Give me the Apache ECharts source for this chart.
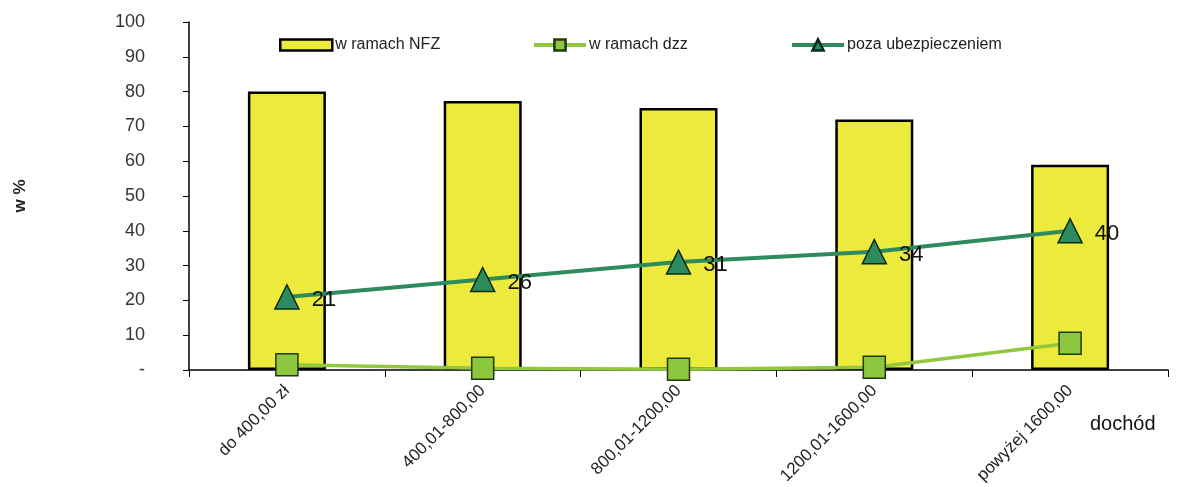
<!DOCTYPE html>
<html><head><meta charset="utf-8">
<script src="https://cdn.jsdelivr.net/npm/echarts@6/dist/echarts.min.js"></script>
<style>html,body{margin:0;padding:0;background:#fff}#c{width:1179px;height:487px}</style>
</head><body><div id="c"></div>
<script>
const categories = ['do 400,00 zł', '400,01-800,00', '800,01-1200,00', '1200,01-1600,00', 'powyżej 1600,00'];
const nfz = [80, 77.3, 75.3, 72, 59];
const dzz = [1.5, 0.5, 0.2, 0.8, 7.7];
const poza = [21, 26, 31, 34, 40];

const chart = echarts.init(document.getElementById('c'));
const font = 'Liberation Sans, Arial, sans-serif';
const legendText = { fontFamily: font, fontSize: 16, color: '#222', padding: [0, 0, 0, -2] };
function leg(name, left, itemHeight, icon) {
  const item = { name: name };
  if (icon) item.icon = icon;
  return { top: 32, left: left, itemWidth: 52, itemHeight: itemHeight, itemGap: 0,
    textStyle: legendText, lineStyle: { width: 4 },
    itemStyle: { borderWidth: 2.5 },
    data: [item] };
}
chart.setOption({
  animation: false,
  grid: { left: 189, right: 11, top: 22, bottom: 115 },
  legend: [leg('w ramach NFZ', 274, 11, 'rect'), leg('w ramach dzz', 527, 14), leg('poza ubezpieczeniem', 785, 14)],
  xAxis: {
    type: 'category', data: categories,
    axisLine: { lineStyle: { color: '#000', width: 1.5 } },
    axisTick: { show: true, length: 7, lineStyle: { color: '#000' } },
    axisLabel: { rotate: 45, fontFamily: font, fontSize: 17, color: '#222', margin: 18 }
  },
  yAxis: {
    type: 'value', min: 0, max: 100, interval: 10,
    name: 'w %', nameLocation: 'middle', nameRotate: 90, nameGap: 160,
    nameTextStyle: { fontFamily: font, fontSize: 17, fontWeight: 'bold', color: '#222' },
    axisLine: { show: true, lineStyle: { color: '#000', width: 1.5 } },
    axisTick: { show: true, length: 6, lineStyle: { color: '#000' } },
    splitLine: { show: false },
    axisLabel: {
      fontFamily: font, fontSize: 18, color: '#333', margin: 44,
      formatter: function (v) { return v === 0 ? '-' : String(v); }
    }
  },
  graphic: [{
    type: 'text', left: 1090, top: 414,
    style: { text: 'dochód', fontFamily: font, fontSize: 20, fill: '#111' }
  }],
  series: [
    {
      name: 'w ramach NFZ', type: 'bar', data: nfz, barWidth: 78,
      itemStyle: { color: '#ECEA3C', borderColor: '#000', borderWidth: 2.5 }
    },
    {
      name: 'w ramach dzz', type: 'line', data: dzz,
      symbol: 'rect', symbolSize: 22,
      lineStyle: { color: '#92C83E', width: 3.5 },
      itemStyle: { color: '#8DC63F', borderColor: '#1f3a10', borderWidth: 1.5 }
    },
    {
      name: 'poza ubezpieczeniem', type: 'line', data: poza,
      symbol: 'triangle', symbolSize: 24,
      lineStyle: { color: '#2E8B5E', width: 4 },
      itemStyle: { color: '#2E8B5E', borderColor: '#0e2a1a', borderWidth: 1.5 },
      label: { show: true, position: 'right', distance: 12, fontFamily: font, fontSize: 22, color: '#111', offset: [0, 3] }
    }
  ]
});
</script></body></html>
